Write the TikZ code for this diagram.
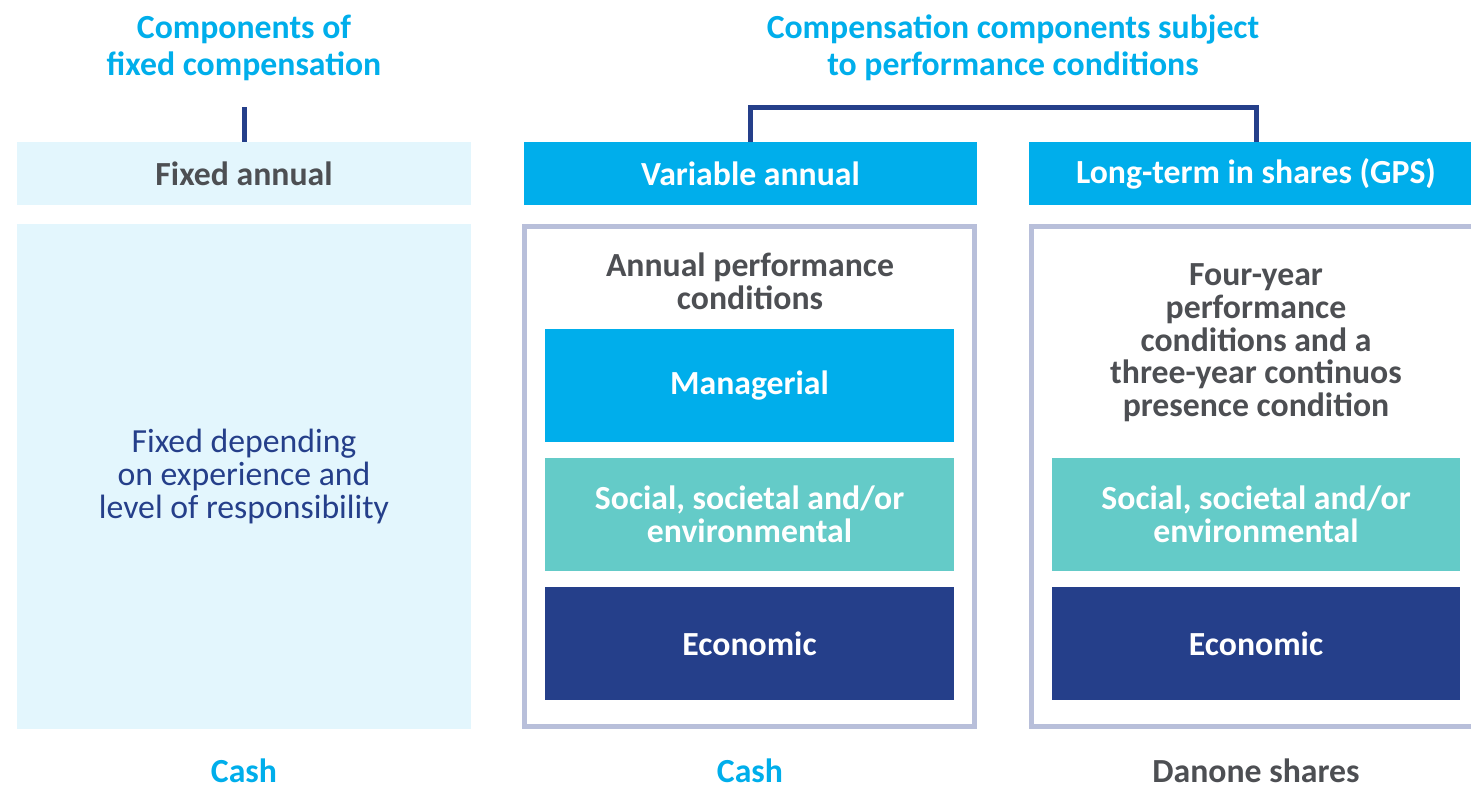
\documentclass[tikz,border=0pt]{standalone}
\usepackage{fontspec}
\setmainfont{Carlito}
\usepackage{tikz}
\usetikzlibrary{calc}
\definecolor{dncyan}{HTML}{00AEEB}
\definecolor{dnlight}{HTML}{E3F6FD}
\definecolor{dnnavy}{HTML}{253F8A}
\definecolor{dnteal}{HTML}{64CBC8}
\definecolor{dngray}{HTML}{4D4F53}
\definecolor{dnframe}{HTML}{B8BFDA}

\begin{document}
\begin{tikzpicture}[x=0.02cm,y=-0.02cm,
    txt/.style={font=\fontsize{19.2}{18.6}\selectfont,align=center,inner sep=0pt},
    head/.style={txt,font=\fontsize{19.2}{18.6}\selectfont\bfseries,minimum width=454*0.02cm,minimum height=63*0.02cm},
    cond/.style={txt,font=\fontsize{19.2}{18.6}\selectfont\bfseries,text=white,minimum width=409*0.02cm,minimum height=113*0.02cm},
    title/.style={txt,font=\fontsize{19.2}{21}\selectfont\bfseries,text=dncyan},
    bar/.style={dnnavy,line width=0.1cm},
    frame/.style={dnframe,line width=0.1cm}]
          \useasboundingbox (0,0) rectangle (1471,793);
          % titles
          \node[title] (tfix) at (244,48) {Components of\\fixed compensation};
          \node[title] (tperf) at (1013,48) {Compensation components subject\\to performance conditions};
          % headers
          \node[head,fill=dnlight,text=dngray] (fixhead) at (244,173.5) {Fixed annual};
          \node[head,fill=dncyan,text=white,minimum width=453*0.02cm] (varhead) at (750.5,173.5) {Variable annual};
          \node[head,fill=dncyan,text=white] (ltihead) at (1256,173.5) {Long-term in shares (GPS)};
          \draw[bar] (fixhead.north) -- ++(0,-34.5);
          \draw[bar] (varhead.north) -- ++(0,-34.5) -| (ltihead.north);
          % fixed column
          \node[txt,fill=dnlight,text=dnnavy,minimum width=454*0.02cm,minimum height=505*0.02cm] (fixbody) at (244,476.5) {Fixed depending\\on experience and\\level of responsibility};
          % frames
          \draw[frame] (524.5,226.5) rectangle (974.5,726.5);
          \draw[frame] (1031.5,226.5) rectangle (1481.5,726.5);
          \node[txt,font=\fontsize{19.2}{18.6}\selectfont\bfseries,text=dngray] (vartxt) at (750,281) {Annual performance\\conditions};
          \node[txt,font=\fontsize{19.2}{18.6}\selectfont\bfseries,text=dngray] (ltitxt) at (1256,343) {Four-year\\performance\\conditions and a\\three-year continuos\\presence condition};
          \node[cond,fill=dncyan] (varman) at (749.5,385.5) {Managerial};
          \node[cond,fill=dnteal] (varsoc) at (749.5,514.5) {Social, societal and/or\\environmental};
          \node[cond,fill=dnnavy] (vareco) at (749.5,643.5) {Economic};
          \node[cond,fill=dnteal,minimum width=408*0.02cm] (ltisoc) at (1256,514.5) {Social, societal and/or\\environmental};
          \node[cond,fill=dnnavy,minimum width=408*0.02cm] (ltieco) at (1256,643.5) {Economic};
          % bottom
          \node[title] (cashfix) at (244,771) {Cash};
          \node[title] (cashvar) at (750,771) {Cash};
          \node[title,text=dngray] (shares) at (1256,771) {Danone shares};
        \end{tikzpicture}
\end{document}
